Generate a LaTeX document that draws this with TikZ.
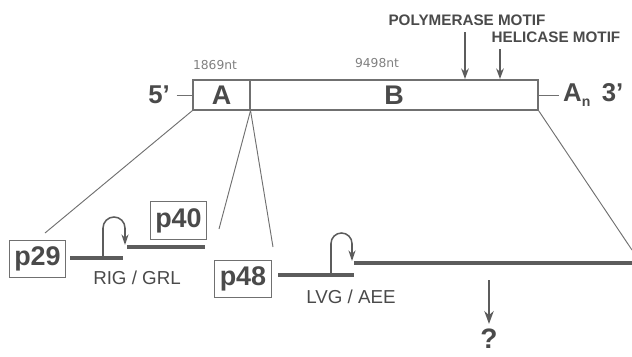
\documentclass[tikz,border=0pt]{standalone}
\usepackage{fontspec}
\setmainfont{Liberation Sans}
\newfontfamily\ntfont{DejaVu Sans}
\usetikzlibrary{arrows.meta}

\definecolor{linegray}{HTML}{707070}
\definecolor{genegray}{HTML}{5C5C5C}
\definecolor{textgray}{HTML}{4A4A4A}

\tikzset{
  seg/.style={draw=linegray, line width=0.9pt, minimum height=0.9cm, inner sep=0pt,
    text=textgray, font=\bfseries\fontsize{23}{23}\selectfont},
  pbox/.style={draw=linegray, line width=0.9pt, minimum width=1.7cm, minimum height=1.13cm,
    inner sep=0pt, text=textgray, font=\bfseries\fontsize{23}{23}\selectfont},
  gene/.style={draw=genegray, line width=3.4pt},
  guide/.style={draw=linegray, line width=0.8pt},
  motif/.style={draw=genegray, line width=1.6pt, -{Stealth[length=9pt,width=6.5pt]}},
  hook/.style={draw=genegray, line width=1.3pt, -{Stealth[length=9pt,width=6pt]}},
  endlbl/.style={text=textgray, inner sep=0pt, font=\bfseries\fontsize{22}{22}\selectfont},
  motiflbl/.style={text=textgray, inner sep=0pt, font=\bfseries\fontsize{13}{13}\selectfont},
  ntlbl/.style={text=black!50, inner sep=0pt, font=\ntfont\fontsize{10.5}{10.5}\selectfont},
  genelbl/.style={text=textgray, inner sep=0pt, font=\fontsize{16}{16}\selectfont},
}

\begin{document}
\begin{tikzpicture}[x=0.03cm, y=-0.03cm]
  \useasboundingbox (0,0) rectangle (632,356);
  % genome
  \node[seg, minimum width=1.71cm] (segA) at (221.5,95) {A};
  \node[seg, minimum width=8.64cm] (segB) at (394,95) {B};
  \draw[draw=linegray, line width=1.4pt] (segA.north east) -- ([yshift=-0.06cm]segA.south east);
  \node[endlbl, anchor=east] (five) at (170,95) {5'};
  \node[endlbl, anchor=west] (tail) at (563,95) {A\raisebox{-0.35ex}{\fontsize{12}{12}\selectfont n}\, 3'};
  \draw[guide] (five.east) ++(0.2cm,0) -- (segA.west);
  \draw[guide] (segB.east) -- ([xshift=-0.12cm]tail.west);
  \node[ntlbl] (ntA) at (215,65) {1869nt};
  \node[ntlbl] (ntB) at (377,63) {9498nt};
  % motifs
  \node[motiflbl] (poly) at (467,20) {POLYMERASE MOTIF};
  \node[motiflbl] (heli) at (556,37) {HELICASE MOTIF};
  \coordinate (polytip) at (465,79);
  \coordinate (helitip) at (500,79);
  \draw[motif] ([yshift=-0.2cm]poly.south -| polytip) -- (polytip);
  \draw[motif] ([yshift=-0.2cm]heli.south -| helitip) -- (helitip);
  % guide lines
  \coordinate (g1) at (45,233);
  \coordinate (g2) at (219,229);
  \coordinate (g3) at (273,247);
  \coordinate (g4) at (632,250);
  \draw[guide] (segA.south west) -- (g1);
  \draw[guide] (segA.south east) -- (g2);
  \draw[guide] (segA.south east) -- (g3);
  \draw[guide] (segB.south east) -- (g4);
  % proteins
  \node[pbox] (p29) at (37.5,259) {p29};
  \node[pbox] (p40) at (178.5,220.5) {p40};
  \node[pbox] (p48) at (243,279) {p48};
  % RIG / GRL
  \coordinate (a1) at (123,258);
  \coordinate (a2) at (205,247);
  \draw[gene] (70,258) -- (a1);
  \draw[gene] (127,247) -- (a2);
  \draw[hook] (103,258) -- (103,228) arc[start angle=180, end angle=360, radius=11] -- (125,245);
  \node[genelbl] (rig) at (137,278) {RIG / GRL};
  % LVG / AEE
  \coordinate (b1) at (354,275);
  \coordinate (b2) at (632,263);
  \draw[gene] (278,275) -- (b1);
  \draw[gene] (354,263) -- (b2);
  \draw[hook] (331,275) -- (331,243.5) arc[start angle=180, end angle=360, radius=10.5] -- (352,261);
  \node[genelbl] (lvg) at (351,297) {LVG / AEE};
  % unknown product
  \node[endlbl, font=\bfseries\fontsize{24}{24}\selectfont] (what) at (489,339) {?};
  \coordinate (downtop) at (489,280);
  \draw[motif, line width=2pt, -{Stealth[length=11pt,width=8pt]}] (downtop) -- ([yshift=0.15cm]what.north);
\end{tikzpicture}
\end{document}
